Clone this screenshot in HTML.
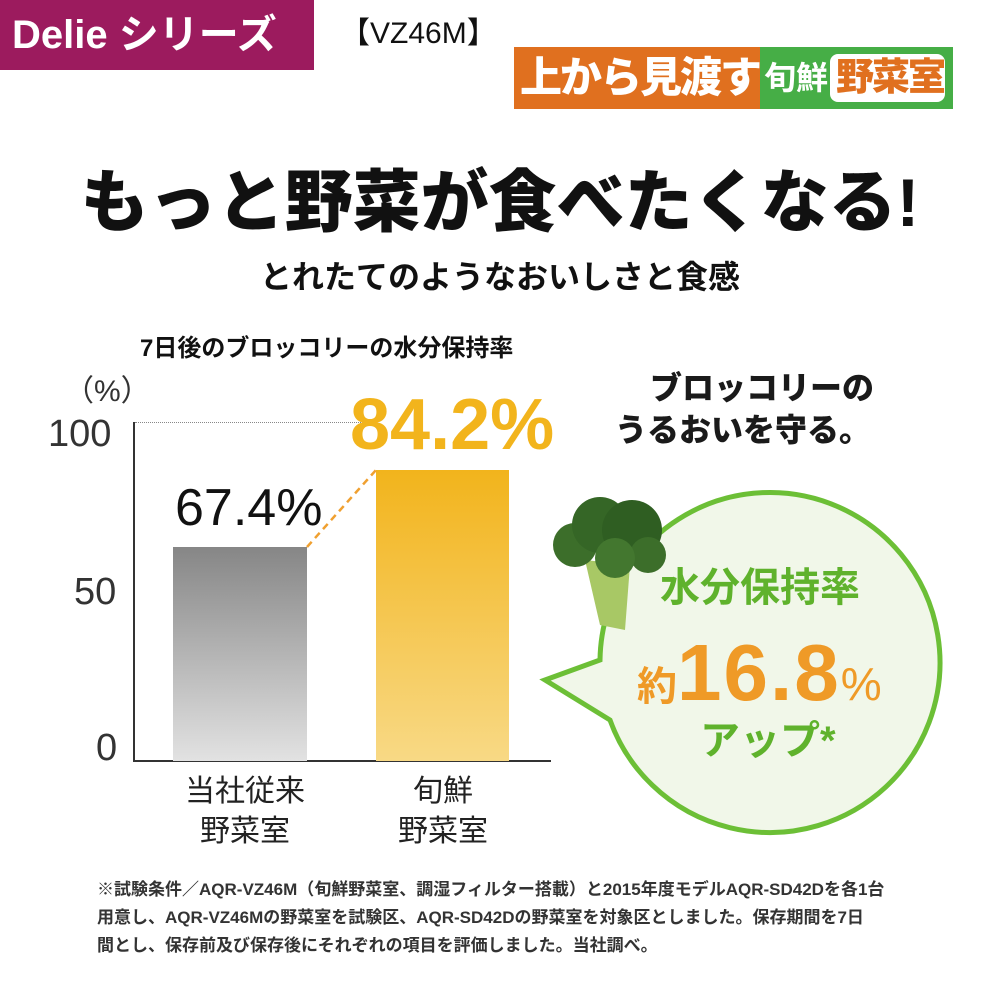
<!DOCTYPE html>
<html><head><meta charset="utf-8"><style>
body{margin:0;width:1000px;height:1000px;background:#fff;position:relative;overflow:hidden;font-family:"Liberation Sans","Noto Sans CJK JP",sans-serif;}
.a{position:absolute;white-space:nowrap;}
</style></head><body>
<div class="a" style="left:0;top:0;width:314px;height:70px;background:#9c1b5e;"></div>
<div class="a" style="left:12px;top:6px;color:#fff;font-size:40px;font-weight:bold;line-height:58px;">Delie シリーズ</div>
<div class="a" style="left:340px;top:16px;font-size:30px;line-height:36px;color:#111;">【VZ46M】</div>
<div class="a" style="left:514px;top:47px;width:246px;height:62px;background:#e0701f;"></div>
<div class="a" style="left:760px;top:47px;width:193px;height:62px;background:#46ae46;"></div>
<div class="a" style="left:520px;top:50px;color:#fff;font-size:42px;font-weight:900;line-height:56px;letter-spacing:-2px;">上から見渡す</div>
<div class="a" style="left:764px;top:58px;color:#fff;font-size:32px;font-weight:bold;line-height:40px;">旬鮮</div>
<div class="a" style="left:830px;top:54px;width:115px;height:48px;background:#fff;border-radius:8px;"></div>
<div class="a" style="left:836px;top:52px;color:#e0701f;font-size:38px;font-weight:900;line-height:52px;letter-spacing:-2px;">野菜室</div>
<div class="a" style="left:0;width:1000px;top:158px;text-align:center;font-size:68px;font-weight:900;line-height:90px;color:#111;">もっと野菜が食べたくなる!</div>
<div class="a" style="left:0;width:1000px;top:255px;text-align:center;font-size:32px;font-weight:bold;line-height:44px;color:#111;">とれたてのようなおいしさと食感</div>
<div class="a" style="left:140px;top:332px;font-size:24px;font-weight:bold;line-height:34px;color:#111;">7日後のブロッコリーの水分保持率</div>
<div class="a" style="left:64px;top:372px;font-size:30px;color:#333;line-height:40px;">（%）</div>
<div class="a" style="left:48px;top:412px;font-size:38px;color:#333;line-height:44px;">100</div>
<div class="a" style="left:74px;top:570px;font-size:38px;color:#333;line-height:44px;">50</div>
<div class="a" style="left:96px;top:726px;font-size:38px;color:#333;line-height:44px;">0</div>
<div class="a" style="left:133px;top:422px;width:0;height:339px;border-left:2px solid #333;"></div>
<div class="a" style="left:133px;top:760px;width:418px;height:2px;background:#333;"></div>
<div class="a" style="left:135px;top:422px;width:240px;border-top:1px dotted #888;"></div>
<div class="a" style="left:173px;top:547px;width:134px;height:214px;background:linear-gradient(#868686,#e2e2e2);"></div>
<div class="a" style="left:376px;top:470px;width:133px;height:291px;background:linear-gradient(#f2b41c,#f8d985);"></div>
<svg class="a" style="left:0;top:0" width="1000" height="1000"><line x1="307" y1="547" x2="376" y2="470" stroke="#f0a030" stroke-width="2.5" stroke-dasharray="7,5"/>
<path d="M600,660 A170,170 0 1 1 610,720 L545,680 Z" fill="#f1f7e9" stroke="#6cbf36" stroke-width="5" stroke-linejoin="miter"/>
<g><path d="M585,560 L600,625 L625,630 L630,565 Z" fill="#a8c865"/><circle cx="575" cy="545" r="22" fill="#3c6e2a"/><circle cx="600" cy="525" r="28" fill="#356626"/><circle cx="632" cy="530" r="30" fill="#2f5e22"/><circle cx="648" cy="555" r="18" fill="#3c6e2a"/><circle cx="615" cy="558" r="20" fill="#43772f"/></g></svg>
<div class="a" style="left:175px;top:478px;font-size:52px;line-height:60px;color:#111;">67.4%</div>
<div class="a" style="left:350px;top:385px;font-size:72px;font-weight:900;line-height:80px;color:#f2b41c;">84.2%</div>
<div class="a" style="left:170px;top:772px;width:150px;text-align:center;font-size:30px;line-height:40px;color:#222;">当社従来<br>野菜室</div>
<div class="a" style="left:368px;top:772px;width:150px;text-align:center;font-size:30px;line-height:40px;color:#222;">旬鮮<br>野菜室</div>
<div class="a" style="left:650px;top:367px;font-size:32px;font-weight:900;line-height:42px;color:#1a1a1a;">ブロッコリーの<br><span style="margin-left:-35px">うるおいを守る。</span></div>
<div class="a" style="left:660px;top:563px;font-size:40px;font-weight:bold;line-height:50px;color:#5fb22c;">水分保持率</div>
<div class="a" style="left:637px;top:628px;font-size:40px;font-weight:bold;line-height:90px;color:#ef9a27;">約<span style="font-size:80px;font-weight:900;letter-spacing:2px;">16.8</span><span style="font-size:46px;font-weight:normal;">%</span></div>
<div class="a" style="left:700px;top:716px;font-size:40px;font-weight:bold;line-height:50px;color:#5fb22c;">アップ*</div>
<div class="a" style="left:97px;top:876px;font-size:17px;font-weight:bold;line-height:28px;color:#333;">※試験条件／AQR-VZ46M（旬鮮野菜室、調湿フィルター搭載）と2015年度モデルAQR-SD42Dを各1台<br>用意し、AQR-VZ46Mの野菜室を試験区、AQR-SD42Dの野菜室を対象区としました。保存期間を7日<br>間とし、保存前及び保存後にそれぞれの項目を評価しました。当社調べ。</div>
</body></html>
